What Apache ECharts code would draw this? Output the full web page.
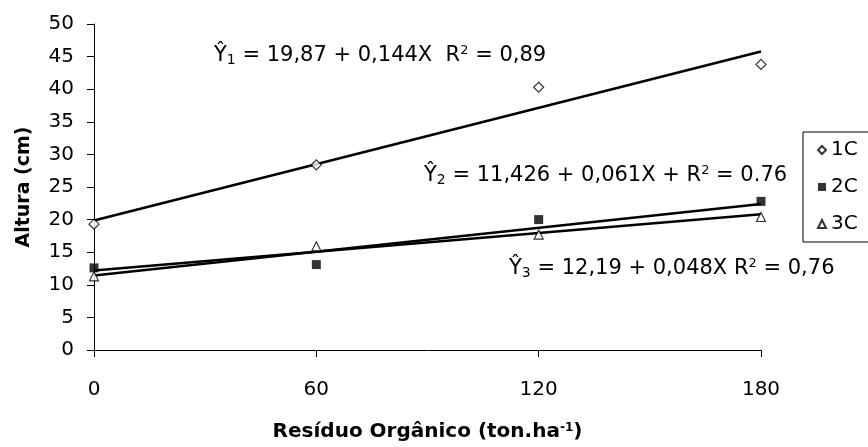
<!DOCTYPE html>
<html>
<head>
<meta charset="utf-8">
<script src="https://cdn.jsdelivr.net/npm/echarts@6/dist/echarts.min.js"></script>
<style>
  html, body { margin: 0; padding: 0; background: #fff; }
  #chart { width: 868px; height: 447px; }
</style>
</head>
<body>
<div id="chart"></div>
<script>
// Doses of organic residue (ton/ha) on the x axis
const doses = [0, 60, 120, 180];

// Plant height (cm) per treatment
const alt1C = [19.3, 28.4, 40.3, 43.8];
const alt2C = [12.6, 13.1, 20.0, 22.8];
const alt3C = [11.3, 15.9, 17.7, 20.4];

// Fitted regression lines, value at dose 0 and at dose 180
const fit1C = [19.87, 45.79];
const fit2C = [11.43, 22.41];
const fit3C = [12.19, 20.83];

const yTicks = { min: 0, max: 50, step: 5 };
const xTicks = { min: 0, max: 180, step: 60 };

const FONT = 'DejaVu Sans, Liberation Sans, sans-serif';
const EQ_SIZE = 21;

const pairs = (xs, ys) => xs.map((x, i) => [x, ys[i]]);
const fitLine = (v) => [[doses[0], v[0]], [doses[doses.length - 1], v[1]]];

const chart = echarts.init(document.getElementById('chart'));

const axisCommon = {
  axisLine: { show: true, lineStyle: { color: '#000', width: 1 } },
  axisTick: { show: true, inside: false, length: 7, lineStyle: { color: '#000' } },
  splitLine: { show: false },
  axisLabel: { color: '#000', fontFamily: FONT, fontSize: 20 }
};

const openMarker = { color: '#fff', borderColor: '#000', borderWidth: 1.2 };

const rich = {
  sub: { fontFamily: FONT, fontSize: 14, color: '#000', verticalAlign: 'bottom', padding: [9, 0, 0, 0] },
  sup: { fontFamily: FONT, fontSize: 13, color: '#000', verticalAlign: 'top', padding: [0, 0, 9, 0] },
  n: { fontFamily: FONT, fontSize: EQ_SIZE, color: '#000' }
};

function eqText(x, y, parts) {
  return {
    type: 'text',
    left: x,
    top: y,
    style: {
      text: parts,
      rich: rich,
      fontFamily: FONT,
      fontSize: EQ_SIZE,
      fill: '#000'
    }
  };
}

chart.setOption({
  animation: false,
  backgroundColor: '#fff',
  grid: { left: 94, right: 107, top: 24, bottom: 96 },
  xAxis: Object.assign({}, axisCommon, {
    type: 'value',
    min: xTicks.min, max: xTicks.max, interval: xTicks.step,
    axisLabel: Object.assign({}, axisCommon.axisLabel, { margin: 30 }),
    name: '{n|Resíduo Orgânico (ton.ha}{sup|-1}{n|)}',
    nameLocation: 'middle',
    nameGap: 72,
    nameTextStyle: {
      fontFamily: FONT, fontWeight: 'bold', fontSize: 20, color: '#000',
      rich: {
        n: { fontFamily: FONT, fontWeight: 'bold', fontSize: 20, color: '#000' },
        sup: { fontFamily: FONT, fontWeight: 'bold', fontSize: 12, color: '#000', verticalAlign: 'top', padding: [0, 0, 8, 0] }
      }
    }
  }),
  yAxis: Object.assign({}, axisCommon, {
    type: 'value',
    min: yTicks.min, max: yTicks.max, interval: yTicks.step,
    axisLabel: Object.assign({}, axisCommon.axisLabel, { margin: 20 }),
    name: 'Altura (cm)',
    nameLocation: 'middle',
    nameGap: 60,
    nameTextStyle: { fontFamily: FONT, fontWeight: 'bold', fontSize: 19, color: '#000' }
  }),
  legend: {
    orient: 'vertical',
    left: 803,
    top: 132,
    padding: [8, 40, 8, 14],
    itemGap: 17,
    itemWidth: 8,
    itemHeight: 8,
    borderColor: '#000',
    borderWidth: 1,
    data: ['1C', '2C', '3C'],
    textStyle: { fontFamily: FONT, fontSize: 20, color: '#000' }
  },
  graphic: [
    eqText(214, 44, '{n|Ŷ}{sub|1}{n| = 19,87 + 0,144X  R}{sup|2}{n| = 0,89}'),
    eqText(424, 164, '{n|Ŷ}{sub|2}{n| = 11,426 + 0,061X + R}{sup|2}{n| = 0.76}'),
    eqText(509, 257, '{n|Ŷ}{sub|3}{n| = 12,19 + 0,048X R}{sup|2}{n| = 0,76}')
  ],
  series: [
    {
      name: 'fit1C', type: 'line', data: fitLine(fit1C), symbol: 'none',
      lineStyle: { color: '#000', width: 2.5 }, silent: true, z: 2
    },
    {
      name: 'fit2C', type: 'line', data: fitLine(fit2C), symbol: 'none',
      lineStyle: { color: '#000', width: 2.5 }, silent: true, z: 2
    },
    {
      name: 'fit3C', type: 'line', data: fitLine(fit3C), symbol: 'none',
      lineStyle: { color: '#000', width: 2.5 }, silent: true, z: 2
    },
    {
      name: '1C', type: 'scatter', data: pairs(doses, alt1C),
      symbol: 'diamond', symbolSize: 10, itemStyle: openMarker, z: 3
    },
    {
      name: '2C', type: 'scatter', data: pairs(doses, alt2C),
      symbol: 'rect', symbolSize: 9, itemStyle: { color: '#000' }, z: 3
    },
    {
      name: '3C', type: 'scatter', data: pairs(doses, alt3C),
      symbol: 'triangle', symbolSize: 9, itemStyle: openMarker, z: 3
    }
  ]
});
</script>
</body>
</html>
